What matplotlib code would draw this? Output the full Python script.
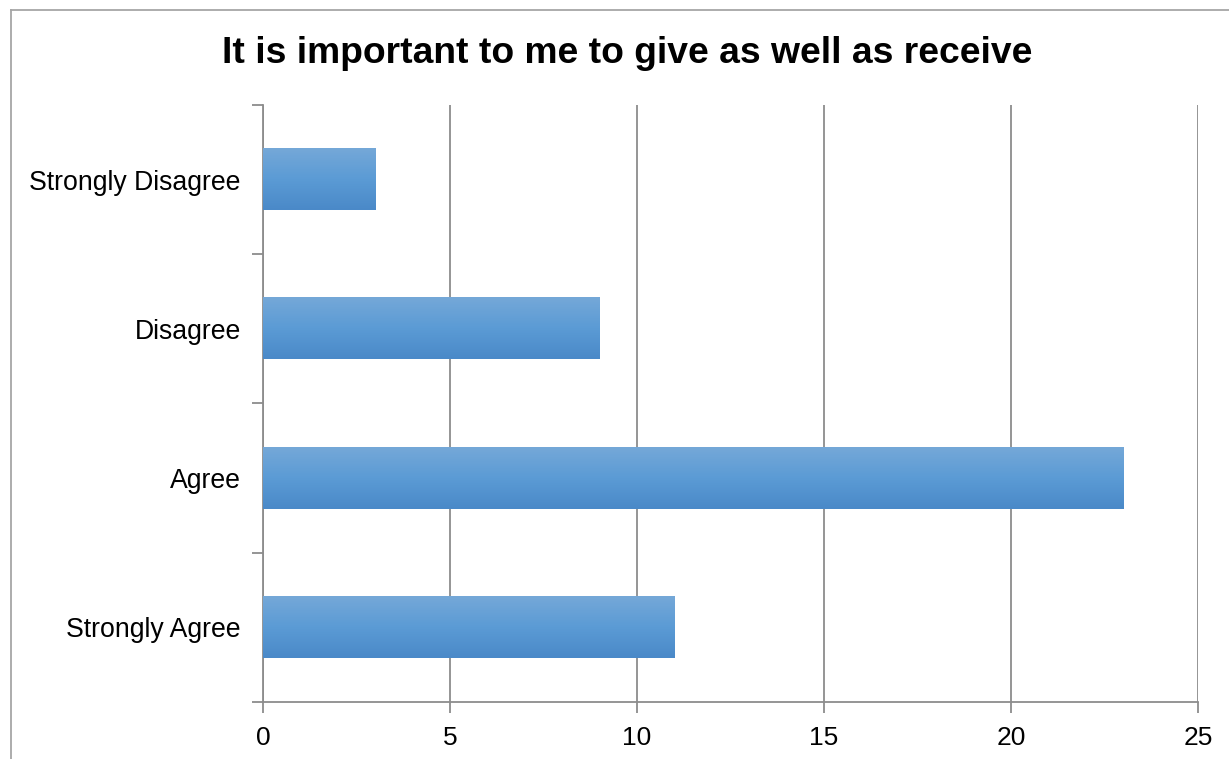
import numpy as np
import matplotlib
matplotlib.use("Agg")
from matplotlib import pyplot as plt
from matplotlib.colors import LinearSegmentedColormap
from matplotlib.lines import Line2D

plt.rcParams['font.family'] = ['Liberation Sans', 'DejaVu Sans']

# survey answers, drawn bottom to top
categories = ["Strongly Agree", "Agree", "Disagree", "Strongly Disagree"]
counts = [11, 23, 9, 3]
x_ticks = [0, 5, 10, 15, 20, 25]

title = "It is important to me to give as well as receive"
grid_col = "#8c8c8c"

fig = plt.figure(figsize=(12.29, 7.59), dpi=100)
ax = fig.add_axes([0.214, 0.0751, 0.7608, 0.7866])

# vertical gradient used to fill every bar (light on top, darker at the bottom)
grad = LinearSegmentedColormap.from_list("bar", ["#4a89c8", "#5b9bd5", "#75a8d8"])
shade = np.linspace(0, 1, 256).reshape(-1, 1)

bar_h = 0.41
ypos = np.arange(len(categories))
bars = ax.barh(ypos, counts, height=bar_h, color="none", edgecolor="none", zorder=3)
for b in bars:
    x0, y0 = b.get_x(), b.get_y()
    w, h = b.get_width(), b.get_height()
    ax.imshow(shade, cmap=grad, aspect="auto", origin="lower",
              extent=[x0, x0 + w, y0, y0 + h], zorder=3, interpolation="bilinear")

ax.set_xlim(0, 25)
ax.set_ylim(-0.5, len(categories) - 0.5)
ax.set_xticks(x_ticks)
ax.set_xticklabels([str(t) for t in x_ticks], fontsize=19)
ax.set_yticks(ypos)
ax.set_yticklabels(categories, fontsize=19.2)
ax.set_yticks(np.arange(-0.5, len(categories), 1.0), minor=True)

ax.tick_params(axis="y", which="major", length=0, pad=16)
ax.tick_params(axis="y", which="minor", length=8, width=1.3, color=grid_col, direction="out")
ax.tick_params(axis="x", length=8, width=1.3, color=grid_col, direction="out", pad=9)

ax.grid(axis="x", color=grid_col, linewidth=1.3, zorder=0)
ax.set_axisbelow(True)
for side in ["top", "right"]:
    ax.spines[side].set_visible(False)
for side in ["left", "bottom"]:
    ax.spines[side].set_color(grid_col)
    ax.spines[side].set_linewidth(1.3)

fig.text(0.51, 0.929, title, ha="center", va="center", fontsize=26.8, fontweight="bold")

# chart frame (left and top edges)
fig.add_artist(Line2D([11 / 1229, 11 / 1229], [0, 1 - 10 / 759], color="#a6a6a6", lw=1.3))
fig.add_artist(Line2D([11 / 1229, 1], [1 - 10 / 759, 1 - 10 / 759], color="#a6a6a6", lw=1.3))

fig.savefig("out.png", dpi=100)
